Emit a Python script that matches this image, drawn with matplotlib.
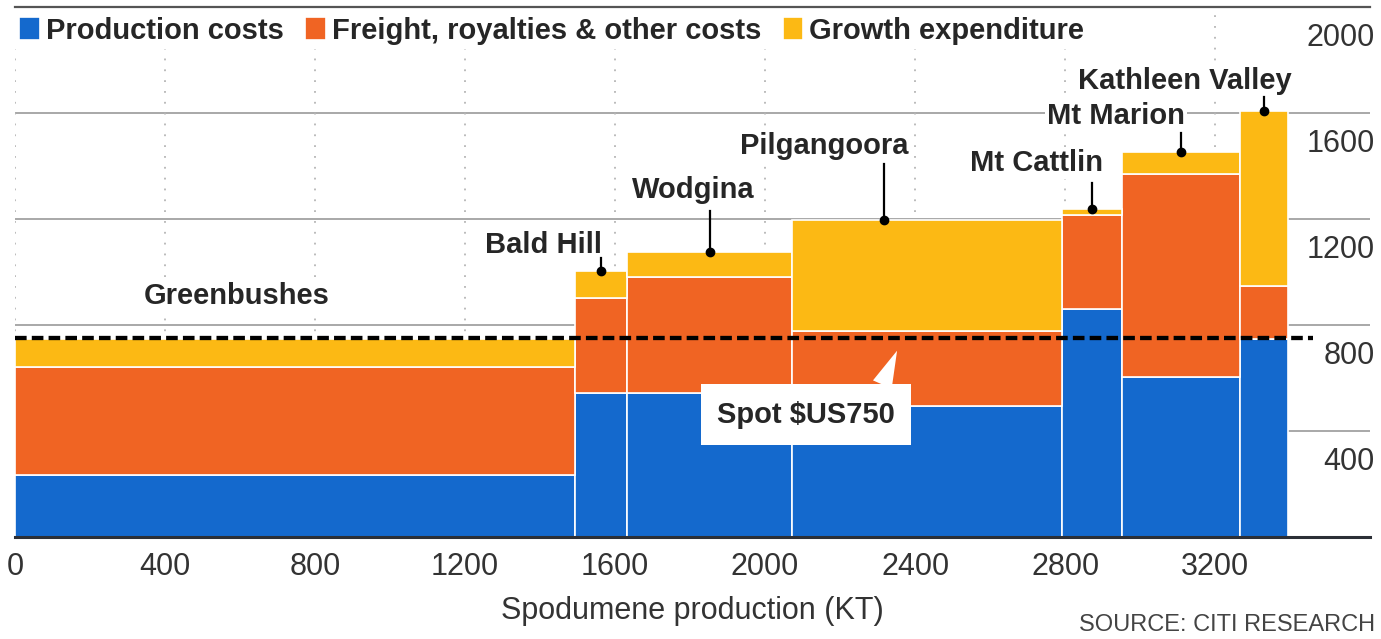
import numpy as np
import matplotlib
matplotlib.use("Agg")
import matplotlib.pyplot as plt
import matplotlib.transforms as mtransforms
from matplotlib import font_manager

# ─────────────────────────────────────────────
# Data
# ─────────────────────────────────────────────

mines      = ["Greenbushes", "Bald Hill", "Wodgina", "Pilgangoora",
              "Mt Cattlin", "Mt Marion", "Kathleen Valley"]
output_kt  = [1493, 139, 440, 720, 160, 315, 128]      # bar widths [KT]
production = [235, 545, 545, 495, 860, 602, 746]       # US$/t
freight    = [405, 357, 436, 281, 356, 769, 201]
growth     = [106, 102, 95, 419, 23, 80, 659]
spot_price = 750

series_names = ["Production costs", "Freight, royalties & other costs",
                "Growth expenditure"]
x_ticks = [0, 400, 800, 1200, 1600, 2000, 2400, 2800, 3200]
y_ticks = [400, 800, 1200, 1600, 2000]

# label layout (data coords): text anchor, leader-line top, dot position in bar
label_xy    = [(592, 880), (1408, 1071), (1808, 1278), (2157, 1444),
               (2725, 1380), (2936, 1560), (3120, 1692)]
leader_top  = [None, 1053, 1229, 1406, 1335, 1523, 1662]
leader_frac = [None, 0.5, 0.5, 0.34, 0.5, 0.5, 0.5]

# ─────────────────────────────────────────────
# Style
# ─────────────────────────────────────────────

installed = {f.name for f in font_manager.fontManager.ttflist}
NARROW = "Liberation Sans Narrow" if "Liberation Sans Narrow" in installed else "Liberation Sans"
REG = "Liberation Sans"

BLUE   = "#1469cd"
ORANGE = "#f06423"
YELLOW = "#fcb914"
INK    = "#262626"
GRID   = "#9a9a9a"

plt.rcParams["font.family"] = [REG, "DejaVu Sans"]

fig = plt.figure(figsize=(13.81, 6.39), dpi=100)
ax = fig.add_axes([15 / 1381, 1 - 537 / 639, (1370 - 15) / 1381, (537 - 7) / 639])

lefts = np.concatenate([[0], np.cumsum(output_kt)[:-1]])
prod = np.array(production)
frt = np.array(freight)
grw = np.array(growth)
totals = prod + frt + grw

bar_kw = dict(align="edge", edgecolor="white", linewidth=1.2, zorder=3)
b1 = ax.bar(lefts, prod, width=output_kt, color=BLUE, label=series_names[0], **bar_kw)
b2 = ax.bar(lefts, frt, width=output_kt, bottom=prod, color=ORANGE,
            label=series_names[1], **bar_kw)
b3 = ax.bar(lefts, grw, width=output_kt, bottom=prod + frt, color=YELLOW,
            label=series_names[2], **bar_kw)

# spot price line
spot_end = lefts[-1] + output_kt[-1] + 65
ax.hlines(spot_price, 0, spot_end, colors="black", linewidth=3.1,
          linestyles=(0, (2.7, 1.2)), zorder=5)

# grid
for v in y_ticks[:-1]:
    ax.axhline(v, color=GRID, linewidth=1.2, zorder=1)
for v in x_ticks:
    ax.axvline(v, color="#b5b5b5", linewidth=1.3, linestyle=(0, (1, 5)), zorder=1)

ax.set_xlim(0, 3613)
ax.set_ylim(0, 2000)

for side in ["left", "right"]:
    ax.spines[side].set_visible(False)
ax.spines["top"].set_color("#555555")
ax.spines["top"].set_linewidth(1.6)
ax.spines["bottom"].set_color("#2b2f36")
ax.spines["bottom"].set_linewidth(2.2)
ax.spines["bottom"].set_zorder(6)

# ticks
ax.set_xticks(x_ticks)
ax.set_xticklabels([str(v) for v in x_ticks])
ax.tick_params(axis="x", length=0, pad=11, labelsize=22, labelcolor="#333333")
ax.yaxis.tick_right()
ax.set_yticks(y_ticks)
ax.set_yticklabels([str(v) for v in y_ticks])
ax.tick_params(axis="y", length=0, pad=3.5, labelsize=22, labelcolor="#333333")
shift = mtransforms.ScaledTranslation(0, -28 / 100, fig.dpi_scale_trans)
for lab in ax.get_yticklabels():
    lab.set_horizontalalignment("right")
    lab.set_transform(lab.get_transform() + shift)

ax.set_xlabel("Spodumene production (KT)", fontsize=22, color="#333333", labelpad=10)

# legend
leg = ax.legend(handles=[b1, b2, b3], loc="upper left", bbox_to_anchor=(0, 0.99),
                ncol=3, frameon=True, fancybox=False, framealpha=1,
                borderpad=0.15, borderaxespad=0, handlelength=0.7, handleheight=0.85,
                handletextpad=0.2, columnspacing=0.75,
                prop=dict(family=[NARROW, "DejaVu Sans"], weight="bold", size=21))
leg.get_frame().set_edgecolor("none")
leg.set_zorder(7)
for t in leg.get_texts():
    t.set_color(INK)

# mine labels with leader lines
lab_font = dict(family=[NARROW, "DejaVu Sans"], weight="bold", size=21, color=INK)
for i, name in enumerate(mines):
    tx, ty = label_xy[i]
    ax.text(tx, ty, name, ha="center", va="baseline", zorder=4,
            bbox=dict(facecolor="white", edgecolor="none", pad=1.5), **lab_font)
    if leader_top[i] is None:
        continue
    dx = lefts[i] + output_kt[i] * leader_frac[i]
    ax.plot([dx, dx], [totals[i], leader_top[i]], color="black", linewidth=1.6, zorder=6)
    ax.plot(dx, totals[i], "o", color="black", markersize=6, zorder=6)

# spot price callout
ax.annotate(f"Spot $US{spot_price}", xy=(2352, 703), xytext=(2109, 432),
            ha="center", va="baseline", zorder=6, **lab_font,
            bbox=dict(boxstyle="square,pad=0.55", facecolor="white", edgecolor="none"),
            arrowprops=dict(arrowstyle="wedge,tail_width=0.7", facecolor="white",
                            edgecolor="none", relpos=(0.89, 1.0), shrinkA=0, shrinkB=0))

fig.text(1375 / 1381, 1 - 625 / 639, "SOURCE: CITI RESEARCH", ha="right", va="center",
         fontsize=17, color="#444444", family=[NARROW, "DejaVu Sans"])

fig.savefig("out.png", dpi=100, facecolor="white")
